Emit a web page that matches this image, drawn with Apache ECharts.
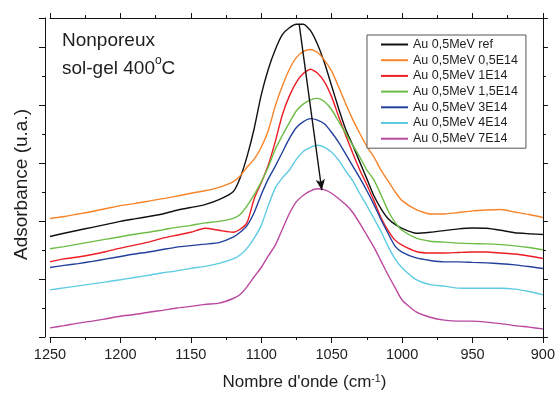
<!DOCTYPE html>
<html>
<head>
<meta charset="utf-8">
<script src="https://cdn.jsdelivr.net/npm/echarts@6/dist/echarts.min.js"></script>
<style>
html,body{margin:0;padding:0;background:#fff;}
#chart{width:558px;height:396px;}
</style>
</head>
<body>
<div id="chart"></div>
<script>
const wavenumbers = [1250,1240,1230,1220,1210,1200,1190,1180,1170,1160,1150,1140,1130,1120,
  1115,1110,1105,1100,1095,1090,1085,1080,1075,1070,1065,1060,1055,1050,1045,1040,1035,1030,1025,1020,1015,1010,1005,1000,
  990,980,970,960,950,940,930,920,910,900];

const seriesNames = ['Au 0,5MeV ref','Au 0,5MeV 0,5E14','Au 0,5MeV 1E14','Au 0,5MeV 1,5E14','Au 0,5MeV 3E14','Au 0,5MeV 4E14','Au 0,5MeV 7E14'];
const seriesColors = ['#111111','#f8842a','#ee1c24','#6cbd45','#22409c','#5ecbe2','#bb479f'];

const absRef = [1.733,1.789,1.840,1.891,1.942,1.993,2.036,2.078,2.121,2.186,2.232,2.283,2.368,2.504,
  2.743,3.118,3.595,4.174,4.617,4.957,5.213,5.332,5.392,5.392,5.281,5.043,4.719,4.327,3.935,3.578,3.305,3.015,2.726,2.436,2.215,2.044,1.942,1.874,
  1.789,1.806,1.835,1.865,1.879,1.874,1.840,1.797,1.780,1.767];
const abs05E14 = [2.044,2.078,2.121,2.164,2.215,2.266,2.300,2.342,2.385,2.428,2.479,2.521,2.581,2.675,
  2.777,2.930,3.066,3.271,3.560,3.986,4.327,4.617,4.821,4.923,4.957,4.906,4.770,4.583,4.310,4.020,3.748,3.509,3.288,3.101,2.879,2.692,2.504,2.351,
  2.198,2.121,2.121,2.147,2.175,2.189,2.198,2.155,2.112,2.061];
const abs1E14 = [1.295,1.346,1.380,1.422,1.474,1.533,1.584,1.635,1.704,1.755,1.806,1.874,1.840,1.806,
  1.857,1.976,2.385,2.658,2.964,3.373,3.833,4.157,4.395,4.549,4.617,4.549,4.395,4.140,3.799,3.475,3.169,2.879,2.624,2.351,2.061,1.840,1.670,1.584,
  1.474,1.448,1.448,1.457,1.465,1.465,1.448,1.431,1.397,1.354];
const abs15E14 = [1.521,1.559,1.601,1.644,1.687,1.729,1.772,1.806,1.848,1.891,1.925,1.968,1.993,2.044,
  2.112,2.266,2.453,2.675,2.930,3.237,3.475,3.697,3.901,4.020,4.089,4.114,4.055,3.918,3.714,3.509,3.305,3.101,2.879,2.709,2.453,2.181,1.976,1.840,
  1.704,1.652,1.635,1.618,1.610,1.606,1.593,1.572,1.542,1.504];
const abs3E14 = [1.198,1.235,1.266,1.303,1.346,1.388,1.431,1.465,1.508,1.550,1.576,1.601,1.627,1.721,
  1.806,1.925,2.147,2.453,2.726,2.947,3.186,3.424,3.612,3.714,3.765,3.739,3.671,3.526,3.356,3.152,2.947,2.743,2.521,2.283,2.027,1.789,1.567,1.465,
  1.363,1.320,1.295,1.295,1.286,1.278,1.264,1.244,1.215,1.181];
const abs4E14 = [0.813,0.847,0.881,0.915,0.951,0.988,1.027,1.065,1.107,1.141,1.184,1.218,1.269,1.346,
  1.414,1.533,1.704,1.925,2.266,2.572,2.743,2.879,3.066,3.203,3.271,3.305,3.271,3.186,3.049,2.862,2.692,2.470,2.266,2.044,1.823,1.567,1.346,1.193,
  0.988,0.903,0.877,0.843,0.840,0.840,0.840,0.826,0.784,0.727];
const abs7E14 = [0.158,0.196,0.239,0.273,0.315,0.358,0.388,0.426,0.460,0.499,0.528,0.562,0.583,0.664,
  0.733,0.869,1.039,1.198,1.397,1.584,1.857,2.129,2.334,2.445,2.521,2.555,2.538,2.479,2.385,2.283,2.147,1.959,1.755,1.550,1.312,1.073,0.852,0.639,
  0.434,0.341,0.290,0.273,0.273,0.256,0.230,0.196,0.170,0.141];

const xTicks = [900, 1250, 50];   // min, max, interval
const yRange = [0, 5.5, 1];       // arbitrary absorbance units
const arrowFrom = [1073, 5.38];
const arrowTo = [1057, 2.53];

const allValues = [absRef, abs05E14, abs1E14, abs15E14, abs3E14, abs4E14, abs7E14];

const FONT = '"Liberation Sans", Arial, Helvetica, sans-serif';
const TXT = '#1e1e1e';

const chart = echarts.init(document.getElementById('chart'), null, {renderer: 'canvas'});

const series = allValues.map((vals, i) => {
  const s = {
    name: seriesNames[i],
    type: 'line',
    data: wavenumbers.map((w, k) => [w, vals[k]]),
    symbol: 'none',
    smooth: 0.2,
    lineStyle: {color: seriesColors[i], width: 1.4},
    itemStyle: {color: seriesColors[i]},
    z: 3
  };
  if (i === 0) {
    s.markLine = {
      silent: true,
      symbol: ['none', 'arrow'],
      symbolSize: [7, 11],
      label: {show: false},
      lineStyle: {color: '#111', width: 1.4, type: 'solid'},
      data: [[{coord: arrowFrom}, {coord: arrowTo}]]
    };
  }
  return s;
});

const axisLineStyle = {show: true, onZero: false, lineStyle: {color: '#111', width: 1}};

const option = {
  animation: false,
  backgroundColor: '#ffffff',
  grid: {left: 50, right: 11, top: 18, bottom: 55, containLabel: false},
  title: {
    text: 'Nonporeux\nsol-gel 400{sup|o}C',
    left: 57, top: 22,
    textStyle: {
      fontFamily: FONT, fontSize: 19, fontWeight: 'normal', color: TXT, lineHeight: 28,
      rich: {sup: {fontFamily: FONT, fontSize: 12, color: TXT, verticalAlign: 'top', lineHeight: 28}}
    }
  },
  legend: {
    orient: 'vertical',
    left: 367, top: 35,
    padding: [3, 8, 3, 14],
    icon: 'rect',
    itemWidth: 27, itemHeight: 2, itemGap: 2.7,
    backgroundColor: '#fff',
    borderColor: '#555', borderWidth: 1,
    textStyle: {fontFamily: FONT, fontSize: 12.5, color: TXT},
    data: seriesNames
  },
  xAxis: [{
    type: 'value', min: xTicks[0], max: xTicks[1], interval: xTicks[2], inverse: true,
    position: 'bottom',
    axisLine: axisLineStyle,
    axisTick: {show: true, inside: false, length: 6, lineStyle: {color: '#111'}},
    minorTick: {show: true, splitNumber: 2, length: 3, lineStyle: {color: '#111'}},
    splitLine: {show: false},
    axisLabel: {show: true, margin: 10, fontFamily: FONT, fontSize: 14.5, color: TXT,
      formatter: v => String(v)},
    name: "Nombre d'onde (cm{sup|-1})",
    nameLocation: 'middle', nameGap: 37,
    nameTextStyle: {fontFamily: FONT, fontSize: 17, color: TXT, padding: [0, 0, 0, 16],
      rich: {sup: {fontFamily: FONT, fontSize: 10.5, color: TXT, verticalAlign: 'top'}}}
  }, {
    type: 'value', min: xTicks[0], max: xTicks[1], interval: xTicks[2], inverse: true,
    position: 'top',
    axisLine: axisLineStyle,
    axisTick: {show: true, inside: false, length: 5, lineStyle: {color: '#111'}},
    minorTick: {show: true, splitNumber: 2, length: 3, lineStyle: {color: '#111'}},
    splitLine: {show: false},
    axisLabel: {show: false}
  }],
  yAxis: [{
    type: 'value', min: yRange[0], max: yRange[1], interval: yRange[2],
    position: 'left', offset: 5,
    axisLine: axisLineStyle,
    axisTick: {show: true, inside: false, length: 6, lineStyle: {color: '#111'}},
    minorTick: {show: true, splitNumber: 2, length: 3, lineStyle: {color: '#111'}},
    splitLine: {show: false},
    axisLabel: {show: false},
    name: 'Adsorbance (u.a.)',
    nameLocation: 'middle', nameGap: 14, nameRotate: 90,
    nameTextStyle: {fontFamily: FONT, fontSize: 19, color: TXT, padding: [0, 14, 0, 0]}
  }, {
    type: 'value', min: yRange[0], max: yRange[1], interval: yRange[2],
    position: 'right',
    axisLine: axisLineStyle,
    axisTick: {show: true, inside: false, length: 5, lineStyle: {color: '#111'}},
    minorTick: {show: true, splitNumber: 2, length: 3, lineStyle: {color: '#111'}},
    splitLine: {show: false},
    axisLabel: {show: false}
  }],
  series: series
};

chart.setOption(option);
</script>
</body>
</html>
